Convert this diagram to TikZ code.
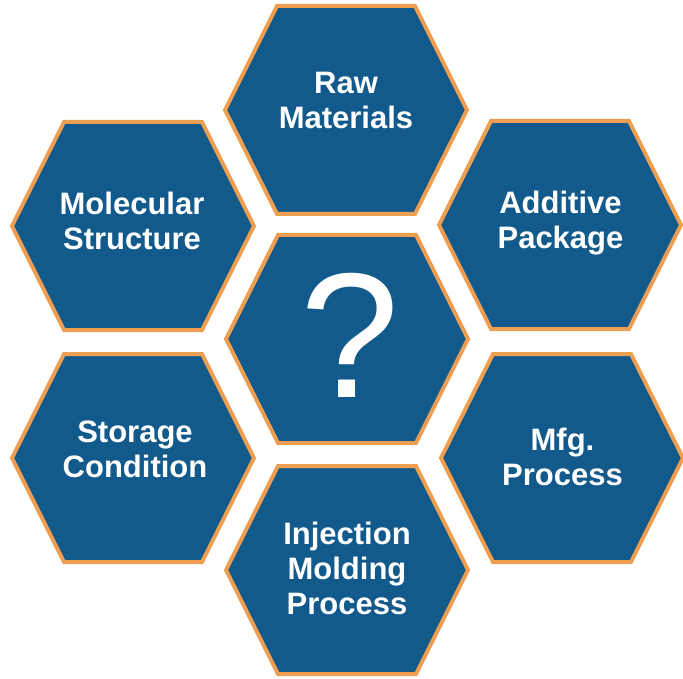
\documentclass[tikz,border=0pt]{standalone}
\usepackage{fontspec}
\setmainfont{Liberation Sans}
\definecolor{hexblue}{HTML}{135A8C}
\definecolor{hexorange}{HTML}{EE9E50}
\tikzset{
  hexcell/.style={fill=hexblue, draw=hexorange, line width=4pt, line join=miter},
  hexlabel/.style={text=white, font=\fontsize{31}{35}\selectfont\bfseries, align=center, inner sep=0pt},
  qlabel/.style={text=white, font=\fontsize{178}{200}\selectfont, inner sep=0pt}
}
\newcommand\hexcellat[2]{%
  \path[hexcell] ({#1-121},{#2}) -- ({#1-69},{#2-104}) -- ({#1+69},{#2-104})
    -- ({#1+121},{#2}) -- ({#1+69},{#2+104}) -- ({#1-69},{#2+104}) -- cycle;}
\begin{document}
\begin{tikzpicture}[x=1pt,y=-1pt]
\useasboundingbox (0,0) rectangle (683,679);
\hexcellat{346}{110}
\hexcellat{133}{226}
\hexcellat{560}{225}
\hexcellat{347}{339}
\hexcellat{133}{458}
\hexcellat{562}{458}
\hexcellat{347}{570}
\node[hexlabel] (raw) at (346,100) {Raw\\Materials};
\node[hexlabel] (mol) at (132,220.5) {Molecular\\Structure};
\node[hexlabel] (add) at (560.5,223) {Additive\\Package};
\node[qlabel] (q) at (350,335) {?};
\node[hexlabel] (sto) at (135,449.5) {Storage\\Condition};
\node[hexlabel] (mfg) at (562.5,457) {Mfg.\\Process};
\node[hexlabel] (inj) at (347,568) {Injection\\Molding\\Process};
\end{tikzpicture}
\end{document}
